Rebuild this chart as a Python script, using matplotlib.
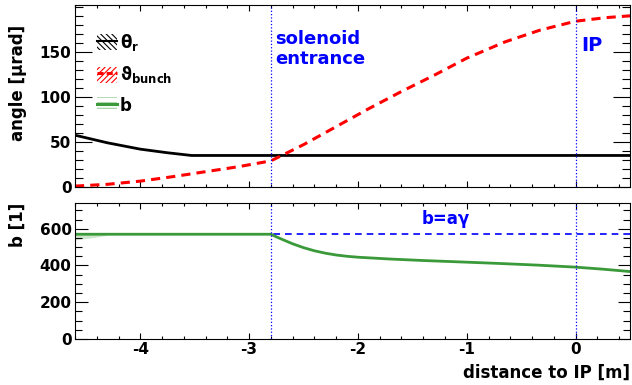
import numpy as np
import matplotlib
matplotlib.use("Agg")
import matplotlib.pyplot as plt
from matplotlib.patches import Patch
from matplotlib.lines import Line2D
from matplotlib.ticker import MultipleLocator, FixedLocator

plt.rcParams['font.family'] = ['DejaVu Sans']
plt.rcParams['font.weight'] = 'bold'
plt.rcParams['axes.labelweight'] = 'bold'
plt.rcParams['mathtext.default'] = 'bf'
plt.rcParams['axes.unicode_minus'] = False
plt.rcParams['hatch.linewidth'] = 0.8

# data
x_theta = [-4.6, -4.3, -4.0, -3.75, -3.53, 0.5]
theta_r = [57.5, 49, 42, 38, 35, 35]

x_bunch = [-4.6, -4.3, -4.0, -3.7, -3.4, -3.1, -2.8, -2.5, -2.2, -1.9,
           -1.6, -1.3, -1.0, -0.65, -0.33, 0.0, 0.28, 0.5]
theta_bunch = [1, 3, 6.5, 11.5, 17, 22.5, 29, 47, 67, 87,
               106, 124, 143, 161, 174, 184, 188, 190]

x_b = [-4.6, -2.8, -2.75, -2.7, -2.6, -2.5, -2.4, -2.3, -2.2, -2.1, -2.0,
       -1.7, -1.4, -1.0, -0.7, -0.35, 0.0, 0.25, 0.5]
b = [570, 570, 556, 543, 518, 497, 480, 467, 457, 450, 445,
     435, 427, 418, 411, 402, 391, 380, 367]

x_band = [-4.6, -4.45, -4.3]
band_lo = [540, 550, 565]

x_agamma = [-4.6, 0.5]
b_agamma = [572, 572]

solenoid_x = -2.8
ip_x = 0.0

green = '#3a9a3a'
lightgreen = '#9fcf9f'

fig = plt.figure(figsize=(6.32, 3.85), dpi=100)
ax1 = fig.add_axes([75/632, 1-187/385, 555/632, 182/385])
ax2 = fig.add_axes([75/632, 1-339/385, 555/632, 136/385])

# top panel
ax1.plot(x_theta, theta_r, color='black', lw=2)
ax1.plot(x_bunch, theta_bunch, color='red', lw=2.2, ls=(0, (3, 2)))
for xv in (solenoid_x, ip_x):
    ax1.axvline(xv, color='blue', lw=0.9, ls=':')
ax1.text(-2.76, 174, "solenoid\nentrance", color='blue', fontsize=13,
         va='top', ha='left', linespacing=1.15)
ax1.text(0.055, 168, "IP", color='blue', fontsize=14, va='top', ha='left')

ax1.set_xlim(-4.6, 0.5)
ax1.set_ylim(0, 202)
ax1.set_ylabel("angle [μrad]", fontsize=12, loc='top')
ax1.yaxis.set_label_coords(-0.087, 0.89)
ax1.yaxis.set_major_locator(FixedLocator([0, 50, 100, 150]))
ax1.yaxis.set_minor_locator(MultipleLocator(10))
ax1.tick_params(axis='y', which='major', length=12)
ax1.tick_params(axis='y', which='minor', length=6)
ax1.tick_params(axis='x', labelbottom=False)

h1 = (Patch(facecolor='none', edgecolor='black', hatch='\\\\\\\\\\\\', lw=0),
      Line2D([], [], color='black', lw=1.5))
h2 = (Patch(facecolor='none', edgecolor='red', hatch='//////', lw=0),
      Line2D([], [], color='red', lw=2.2, ls=(0, (2, 1))))
h3 = (Patch(facecolor='none', edgecolor=lightgreen, hatch='---', lw=0),
      Line2D([], [], color=green, lw=2.2))
ax1.legend([h1, h2, h3], [r'$\theta_{r}$', r'$\vartheta_{bunch}$', 'b'],
           loc='upper left', bbox_to_anchor=(0.025, 0.9), frameon=False,
           fontsize=12, handlelength=1.2, handleheight=1.1,
           handletextpad=0.15, labelspacing=0.7, borderpad=0)

# bottom panel
ax2.plot(x_agamma, b_agamma, color='blue', lw=1.2, ls=(0, (4, 3)))
ax2.fill_between(x_band, band_lo, 570, color=lightgreen, alpha=0.5, lw=0)
ax2.plot(x_b, b, color=green, lw=2)
for xv in (solenoid_x, ip_x):
    ax2.axvline(xv, color='blue', lw=0.9, ls=':')
ax2.text(-1.19, 625, "b=aγ", color='blue', fontsize=12, ha='center',
         va='baseline')

ax2.set_xlim(-4.6, 0.5)
ax2.set_ylim(0, 740)
ax2.set_ylabel("b [1]", fontsize=12, loc='top')
ax2.yaxis.set_label_coords(-0.087, 1.0)
ax2.set_xlabel("distance to IP [m]", fontsize=12, loc='right')
ax2.xaxis.set_label_coords(1.0, -0.18)
ax2.yaxis.set_major_locator(MultipleLocator(200))
ax2.yaxis.set_minor_locator(MultipleLocator(50))
ax2.tick_params(axis='y', which='major', length=9)
ax2.tick_params(axis='y', which='minor', length=5)

for ax in (ax1, ax2):
    ax.xaxis.set_major_locator(MultipleLocator(1))
    ax.xaxis.set_minor_locator(MultipleLocator(0.2))
    ax.tick_params(which='both', direction='in', top=True, right=True,
                   labelsize=11, pad=2.5, width=0.8)
    ax.tick_params(axis='x', which='major', length=4)
    ax.tick_params(axis='x', which='minor', length=2)
    for s in ax.spines.values():
        s.set_linewidth(0.8)

fig.savefig('out.png', dpi=100)
